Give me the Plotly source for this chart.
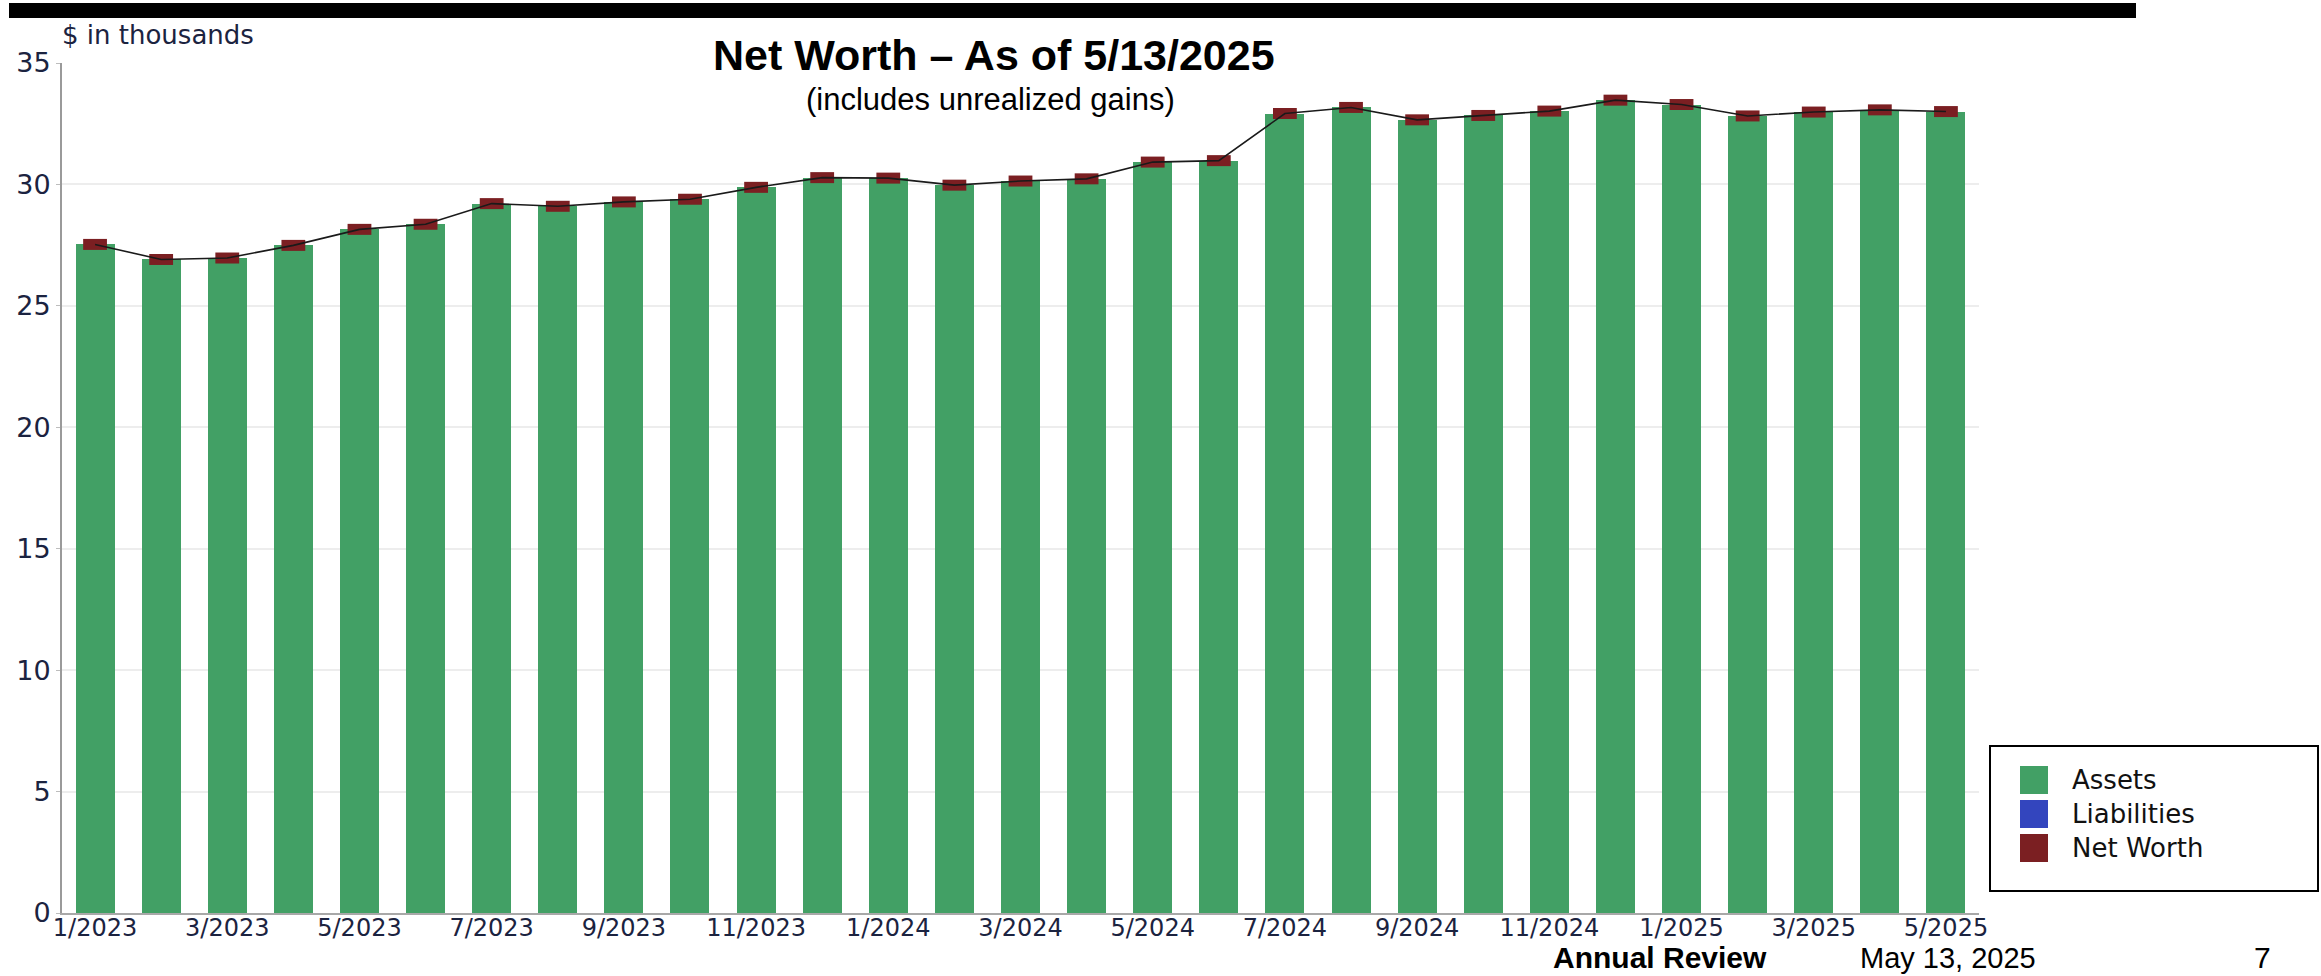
import plotly.graph_objects as go

# ---------------- data ----------------
MONTHS = [
    "1/2023", "2/2023", "3/2023", "4/2023", "5/2023", "6/2023", "7/2023", "8/2023",
    "9/2023", "10/2023", "11/2023", "12/2023", "1/2024", "2/2024", "3/2024", "4/2024",
    "5/2024", "6/2024", "7/2024", "8/2024", "9/2024", "10/2024", "11/2024", "12/2024",
    "1/2025", "2/2025", "3/2025", "4/2025", "5/2025",
]
ASSETS = [
    27.53, 26.91, 26.97, 27.49, 28.15, 28.36, 29.21, 29.10,
    29.28, 29.39, 29.88, 30.28, 30.26, 29.97, 30.14, 30.23,
    30.92, 30.98, 32.92, 33.17, 32.66, 32.84, 33.02, 33.47,
    33.29, 32.82, 32.98, 33.07, 33.00,
]
LIABILITIES = [0.0] * len(MONTHS)
NET_WORTH = [a - l for a, l in zip(ASSETS, LIABILITIES)]
TICK_MONTHS = MONTHS[::2]
Y_TICKS = [0, 5, 10, 15, 20, 25, 30, 35]

TITLE = "Net Worth – As of 5/13/2025"
SUBTITLE = "(includes unrealized gains)"
Y_UNIT = "$ in thousands"
LEGEND_NAMES = ["Assets", "Liabilities", "Net Worth"]

# ---------------- styles ----------------
GREEN = "#42A065"
BLUE = "#3345BE"
RED = "#7B1F22"
W, H = 2321, 976
PL, PR, PT, PB = 62, 1979, 63, 913  # plot area in pixels


def px(x):
    return (x - PL) / (PR - PL)


def py(y):
    return (PB - y) / (PB - PT)


fig = go.Figure()
fig.add_trace(go.Bar(x=MONTHS, y=ASSETS, name=LEGEND_NAMES[0],
                     marker=dict(color=GREEN, line=dict(width=0)), showlegend=False))
fig.add_trace(go.Bar(x=MONTHS, y=LIABILITIES, name=LEGEND_NAMES[1],
                     marker=dict(color=BLUE, line=dict(width=0)), showlegend=False))
fig.add_trace(go.Scatter(x=MONTHS, y=NET_WORTH, name=LEGEND_NAMES[2], mode="markers",
                         marker=dict(symbol="line-ew", size=17, color=RED,
                                     line=dict(color=RED, width=11)),
                         showlegend=False))
fig.add_trace(go.Scatter(x=MONTHS, y=NET_WORTH, mode="lines",
                         line=dict(color="#1a1a1a", width=1.6),
                         showlegend=False, hoverinfo="skip"))

fig.update_layout(
    width=W, height=H,
    margin=dict(l=PL, r=W - PR, t=PT, b=H - PB, pad=0, autoexpand=False),
    paper_bgcolor="white", plot_bgcolor="white",
    barmode="stack", bargap=0.41,
    font=dict(family="DejaVu Sans", color="#1b2340"),
    xaxis=dict(
        type="category", range=[-0.5, len(MONTHS) - 0.5],
        tickmode="array", tickvals=TICK_MONTHS, ticktext=TICK_MONTHS,
        tickfont=dict(family="DejaVu Sans", size=24, color="#1b2340"),
        ticklabelstandoff=-8,
        showgrid=False, showline=True, linecolor="#a8a8a8", linewidth=2,
        ticks="", zeroline=False,
    ),
    yaxis=dict(
        range=[0, 35], tickmode="array", tickvals=Y_TICKS,
        tickfont=dict(family="DejaVu Sans", size=27, color="#1b2340"),
        showgrid=True, gridcolor="#ededed", gridwidth=1.5,
        showline=True, linecolor="#9a9a9a", linewidth=2,
        ticks="outside", ticklen=4, tickcolor="#bdbdbd", zeroline=False,
    ),
)

shapes = []
# top black bar
shapes.append(dict(type="rect", xref="paper", yref="paper",
                   x0=px(9), x1=px(2136), y0=py(18), y1=py(3),
                   fillcolor="black", line=dict(width=0), layer="above"))
# legend box
shapes.append(dict(type="rect", xref="paper", yref="paper",
                   x0=px(1990), x1=px(2318), y0=py(891), y1=py(746),
                   fillcolor="white", line=dict(color="black", width=2), layer="above"))
annotations = []
for i, (name, col) in enumerate(zip(LEGEND_NAMES, [GREEN, BLUE, RED])):
    top = 766 + 34 * i
    shapes.append(dict(type="rect", xref="paper", yref="paper",
                       x0=px(2020), x1=px(2048), y0=py(top + 28), y1=py(top),
                       fillcolor=col, line=dict(width=0), layer="above"))
    annotations.append(dict(text=name, xref="paper", yref="paper",
                            x=px(2070), y=py(top + 14), xanchor="left", yanchor="middle",
                            showarrow=False,
                            font=dict(family="DejaVu Sans", size=26, color="#111111")))

FOOT_Y = py(975)
annotations += [
    dict(text=f"<b>{TITLE}</b>", xref="paper", yref="paper", x=px(994), y=py(55),
         xanchor="center", yanchor="middle", showarrow=False,
         font=dict(family="Liberation Sans, Arial", size=43, color="black")),
    dict(text=SUBTITLE, xref="paper", yref="paper", x=px(990), y=py(99),
         xanchor="center", yanchor="middle", showarrow=False,
         font=dict(family="Liberation Sans, Arial", size=31, color="black")),
    dict(text=Y_UNIT, xref="paper", yref="paper", x=px(60), y=py(35),
         xanchor="left", yanchor="middle", showarrow=False,
         font=dict(family="DejaVu Sans", size=26, color="#1b2340")),
    dict(text="<b>Annual Review</b>", xref="paper", yref="paper", x=px(1552), y=FOOT_Y,
         xanchor="left", yanchor="bottom", showarrow=False, borderpad=0,
         font=dict(family="Liberation Sans, Arial", size=30, color="black")),
    dict(text="May 13, 2025", xref="paper", yref="paper", x=px(1859), y=FOOT_Y,
         xanchor="left", yanchor="bottom", showarrow=False, borderpad=0,
         font=dict(family="Liberation Sans, Arial", size=29, color="black")),
    dict(text="7", xref="paper", yref="paper", x=px(2262), y=FOOT_Y,
         xanchor="center", yanchor="bottom", showarrow=False, borderpad=0,
         font=dict(family="Liberation Sans, Arial", size=30, color="black")),
]

fig.update_layout(shapes=shapes, annotations=annotations)
fig.write_html(
    "out.html",
    config={"displayModeBar": False},
    post_script="document.body.style.margin='0';document.body.style.padding='0';"
                "document.body.style.overflow='hidden';",
)
